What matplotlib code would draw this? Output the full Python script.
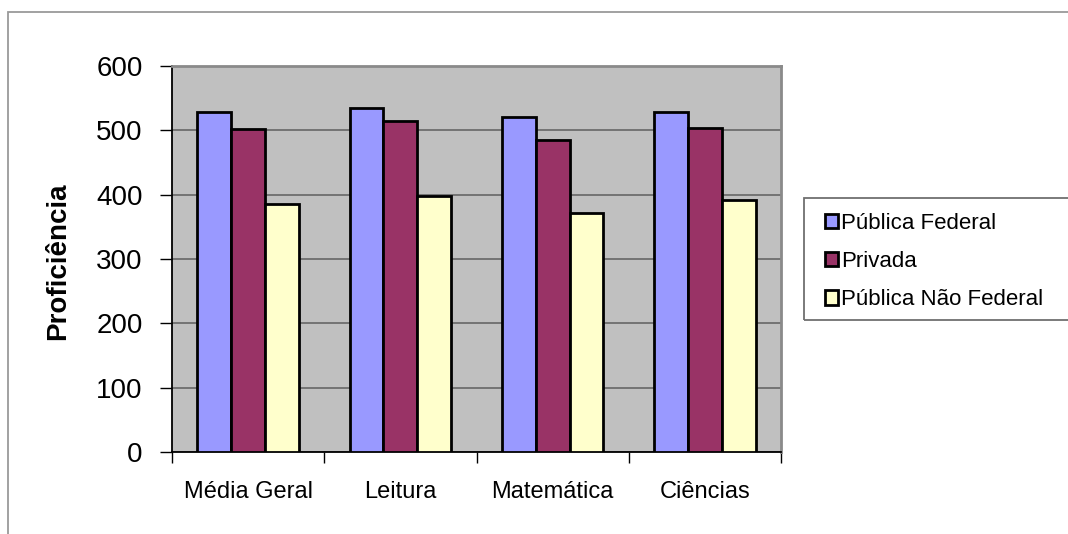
import matplotlib.pyplot as plt
import numpy as np
from matplotlib.patches import Rectangle

plt.rcParams['font.family'] = ['Liberation Sans', 'DejaVu Sans']

# Proficiência média por tipo de escola
categorias = ['Média Geral', 'Leitura', 'Matemática', 'Ciências']
publica_federal = [528, 535, 520, 528]
privada = [502, 515, 485, 504]
publica_nao_federal = [386, 398, 371, 391]
series = ['Pública Federal', 'Privada', 'Pública Não Federal']
cores = ['#9999FF', '#993366', '#FFFFCC']
yticks = [0, 100, 200, 300, 400, 500, 600]

W, H, DPI = 1068, 534, 100
fig = plt.figure(figsize=(W / DPI, H / DPI), dpi=DPI)

# moldura externa do gráfico
fig.add_artist(Rectangle((8 / W, -0.1), 1.2, 1 - 12.5 / H + 0.1,
                         transform=fig.transFigure, fill=False,
                         edgecolor='#9a9a9a', linewidth=1.3))

ax = fig.add_axes([172 / W, 1 - 452 / H, (781 - 172) / W, (452 - 66) / H])
ax.set_facecolor('#C0C0C0')

x = np.arange(len(categorias)) + 0.5
largura = 1 / 4.5
for i, (valores, nome, cor) in enumerate(zip([publica_federal, privada, publica_nao_federal], series, cores)):
    ax.bar(x + (i - 1) * largura, valores, width=largura, color=cor,
           edgecolor='black', linewidth=2.0, label=nome, zorder=3)

ax.set_xlim(0, len(categorias))
ax.set_ylim(0, 600)
ax.set_yticks(yticks)
ax.set_yticklabels([str(v) for v in yticks], fontsize=20)
ax.yaxis.grid(True, color='#6e6e6e', linewidth=1.3, zorder=1)
ax.set_axisbelow(True)

ax.set_xticks(x)
ax.set_xticklabels(categorias, fontsize=17)
ax.set_xticks(np.arange(len(categorias) + 1), minor=True)
ax.tick_params(axis='x', which='major', length=0, pad=21)
ax.tick_params(axis='x', which='minor', length=8, width=1, direction='out')
ax.tick_params(axis='y', length=9, width=1, direction='out', pad=12)

ax.set_ylabel('Proficiência', fontsize=20, fontweight='bold')
ax.yaxis.set_label_coords(-0.166, 0.494)

for lado in ['top', 'right']:
    ax.spines[lado].set_color('#8a8a8a')
    ax.spines[lado].set_linewidth(2)
for lado in ['left', 'bottom']:
    ax.spines[lado].set_color('black')
    ax.spines[lado].set_linewidth(1.3)

# caixa da legenda
fig.add_artist(Rectangle((804 / W, 1 - 320 / H), 0.3, (320 - 198) / H,
                         transform=fig.transFigure, fill=False,
                         edgecolor='#707070', linewidth=1.3))
leg = fig.legend(loc='upper left', bbox_to_anchor=(818 / W, 1 - 206 / H),
                 frameon=False, fontsize=16, handlelength=0.62,
                 handleheight=0.62, handletextpad=0.12, labelspacing=0.78,
                 borderaxespad=0, borderpad=0.3)
for h in leg.legend_handles:
    h.set_linewidth(2.0)

fig.savefig('out.png', dpi=DPI)
